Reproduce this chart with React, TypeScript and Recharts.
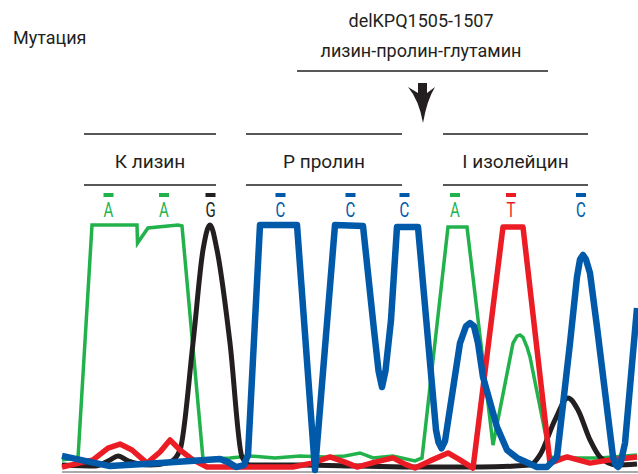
import { LineChart, Line, XAxis, YAxis, ReferenceLine } from 'recharts'

// позиции по оси x — условные единицы сканирования (0..576), y — сигнал 0..100
const traceA = [
  { x: 0, v: 4.9 }, { x: 14, v: 5.7 }, { x: 16, v: 5.7 }, { x: 30, v: 100 },
  { x: 75, v: 100 }, { x: 75.5, v: 92.7 }, { x: 86, v: 98.8 }, { x: 116, v: 100 },
  { x: 120, v: 99.6 }, { x: 141, v: 5.3 }, { x: 168, v: 5.7 }, { x: 188, v: 6.5 },
  { x: 213, v: 5.7 }, { x: 238, v: 6.5 }, { x: 263, v: 6.1 }, { x: 283, v: 6.5 },
  { x: 298, v: 7.7 }, { x: 311, v: 5.7 }, { x: 331, v: 6.5 }, { x: 353, v: 4.5 },
  { x: 360, v: 5.7 }, { x: 386, v: 99.2 }, { x: 405, v: 99.2 }, { x: 431, v: 10.9 },
  { x: 451, v: 52.2 }, { x: 455, v: 55 }, { x: 458, v: 55.5 }, { x: 461, v: 54.5 },
  { x: 465, v: 50.6 }, { x: 468, v: 46.6 }, { x: 488, v: 6.1 }, { x: 513, v: 5.7 },
  { x: 538, v: 5.7 }, { x: 575, v: 6.9 },
]

const traceG = [
  { x: 0, v: 2.8 }, { x: 33, v: 2.4 }, { x: 48, v: 4.9 }, { x: 56, v: 6.5 },
  { x: 66, v: 4.5 }, { x: 88, v: 2.8 }, { x: 108, v: 4.0 }, { x: 118, v: 8.9 },
  { x: 131, v: 52.2 }, { x: 141, v: 89.9 }, { x: 148, v: 100 }, { x: 155, v: 89.9 },
  { x: 168, v: 52.2 }, { x: 180, v: 6.1 }, { x: 188, v: 2.8 }, { x: 238, v: 2.8 },
  { x: 298, v: 2.4 }, { x: 358, v: 2.0 }, { x: 418, v: 2.0 }, { x: 468, v: 2.8 },
  { x: 478, v: 6.9 }, { x: 493, v: 21.1 }, { x: 506, v: 30.0 }, { x: 516, v: 25.1 },
  { x: 528, v: 13.0 }, { x: 538, v: 6.1 }, { x: 555, v: 2.8 }, { x: 575, v: 3.2 },
]

const traceC = [
  { x: 0, v: 6.5 }, { x: 23, v: 4.5 }, { x: 48, v: 2.4 }, { x: 98, v: 3.6 },
  { x: 158, v: 5.3 }, { x: 166, v: 4.0 }, { x: 174, v: 2.0 }, { x: 182, v: 2.8 },
  { x: 186, v: 6.9 }, { x: 198, v: 100 }, { x: 235, v: 100 }, { x: 253, v: 0.8 },
  { x: 273, v: 100 }, { x: 301, v: 99.6 }, { x: 312, v: 57.5 }, { x: 316.5, v: 41 },
  { x: 320, v: 34.4 }, { x: 323.5, v: 41 }, { x: 329, v: 61.5 }, { x: 335, v: 99.2 },
  { x: 356, v: 99.2 }, { x: 374, v: 17.0 }, { x: 376.5, v: 12 }, { x: 379.5, v: 9.6 },
  { x: 383, v: 12.5 }, { x: 398, v: 52.2 }, { x: 404, v: 59 }, { x: 408, v: 60.3 },
  { x: 412, v: 59 }, { x: 416, v: 52.2 }, { x: 421, v: 38.5 }, { x: 435, v: 18.2 },
  { x: 445, v: 8.9 }, { x: 455, v: 5.7 }, { x: 475, v: 2.0 }, { x: 485, v: 2.0 },
  { x: 495, v: 6.1 }, { x: 508, v: 52.2 }, { x: 515, v: 79 }, { x: 518, v: 86 },
  { x: 521, v: 87.9 }, { x: 524, v: 86 }, { x: 528, v: 80.5 }, { x: 535, v: 58.7 },
  { x: 551, v: 6.1 }, { x: 553.5, v: 3 }, { x: 556, v: 2.0 }, { x: 558.5, v: 3.5 },
  { x: 563, v: 11.7 }, { x: 575, v: 66.4 },
]

const traceT = [
  { x: 0, v: 2.0 }, { x: 31, v: 4.9 }, { x: 46, v: 9.7 }, { x: 58, v: 11.3 },
  { x: 70, v: 8.9 }, { x: 85, v: 3.6 }, { x: 98, v: 8.1 }, { x: 108, v: 13.0 },
  { x: 118, v: 8.9 }, { x: 131, v: 4.9 }, { x: 145, v: 2.0 }, { x: 231, v: 2.0 },
  { x: 250, v: 3.6 }, { x: 268, v: 6.1 }, { x: 283, v: 4.0 }, { x: 295, v: 2.0 },
  { x: 313, v: 4.0 }, { x: 331, v: 5.7 }, { x: 343, v: 3.2 }, { x: 353, v: 1.6 },
  { x: 368, v: 4.5 }, { x: 386, v: 7.7 }, { x: 398, v: 4.9 }, { x: 411, v: 1.6 },
  { x: 441, v: 99.2 }, { x: 461, v: 99.2 }, { x: 488, v: 3.6 }, { x: 505, v: 6.1 },
  { x: 528, v: 3.6 }, { x: 548, v: 4.9 }, { x: 575, v: 6.1 },
]

// нуклеотиды над пиками
const baseLetters = ['A', 'A', 'G', 'C', 'C', 'C', 'A', 'T', 'C']
const basePos = [46.5, 102, 148.5, 218.5, 288.5, 342.5, 393, 449, 519]

// аминокислоты
const aminoLabels = ['К лизин', 'Р пролин', 'I изолейцин']
const aminoRanges = [[84, 216], [246, 402], [443, 588]]

const COLORS: Record<string, string> = {
  A: '#22b24c',
  G: '#231f20',
  C: '#0059a9',
  T: '#ec1c24',
}

const PLOT_LEFT = 62
const FONT = "Roboto, 'Liberation Sans', sans-serif"
const INK = '#231f20'

export default function App() {
  return (
    <div style={s.wrap}>
      <LineChart
        width={638}
        height={474}
        margin={{ top: 225, right: 0, bottom: 2, left: PLOT_LEFT }}
      >
        <XAxis type="number" dataKey="x" domain={[0, 576]} hide />
        <YAxis type="number" domain={[0, 100]} hide width={0} />
        <ReferenceLine y={0} stroke="#555" strokeWidth={1} />
        <Line data={traceA} dataKey="v" type="linear" stroke={COLORS.A} strokeWidth={3.5}
          dot={false} isAnimationActive={false} strokeLinejoin="miter" />
        <Line data={traceG} dataKey="v" type="monotone" stroke={COLORS.G} strokeWidth={5}
          dot={false} isAnimationActive={false} />
        <Line data={traceT} dataKey="v" type="linear" stroke={COLORS.T} strokeWidth={5.5}
          dot={false} isAnimationActive={false} strokeLinejoin="round" />
        <Line data={traceC} dataKey="v" type="linear" stroke={COLORS.C} strokeWidth={6.5}
          dot={false} isAnimationActive={false} strokeLinejoin="round" />
      </LineChart>

      {/* подписи поверх графика */}
      <svg width={638} height={474} style={s.overlay}>
        <text x={13} y={44} fontSize={18} fill={INK} fontFamily={FONT}>Мутация</text>
        <text x={421} y={27} fontSize={18} fill={INK} fontFamily={FONT} textAnchor="middle">
          delKPQ1505-1507
        </text>
        <text x={421} y={57} fontSize={18} fill={INK} fontFamily={FONT} textAnchor="middle">
          лизин-пролин-глутамин
        </text>
        <line x1={297} x2={548} y1={71} y2={71} stroke={INK} strokeWidth={1.3} />
        <path
          d="M418 83 H427 V93 L435 87 Q427 100 423 123 Q419 100 408 87 L418 93 Z"
          fill={INK}
        />

        {aminoLabels.map((label, i) => {
          const [a, b] = aminoRanges[i]
          return (
            <g key={label}>
              <line x1={a} x2={b} y1={134} y2={134} stroke={INK} strokeWidth={1.3} />
              <text x={(a + b) / 2} y={168} fontSize={19} fill={INK} fontFamily={FONT}
                textAnchor="middle">{label}</text>
              <line x1={a} x2={b} y1={185} y2={185} stroke={INK} strokeWidth={1.3} />
            </g>
          )
        })}

        {baseLetters.map((b, i) => {
          const cx = PLOT_LEFT + basePos[i]
          return (
            <g key={i}>
              <rect x={cx - 5} y={193} width={10} height={4} fill={COLORS[b]} />
              <text transform={`translate(${cx},217) scale(0.75,1)`} fontSize={20}
                fill={COLORS[b]} fontFamily={FONT} textAnchor="middle">{b}</text>
            </g>
          )
        })}
      </svg>
    </div>
  )
}

const s = {
  wrap: {
    position: 'absolute' as const,
    left: 0,
    top: 0,
    width: 638,
    height: 474,
    background: '#fff',
    overflow: 'hidden',
  } as React.CSSProperties,
  overlay: {
    position: 'absolute' as const,
    left: 0,
    top: 0,
    pointerEvents: 'none' as const,
  } as React.CSSProperties,
}
